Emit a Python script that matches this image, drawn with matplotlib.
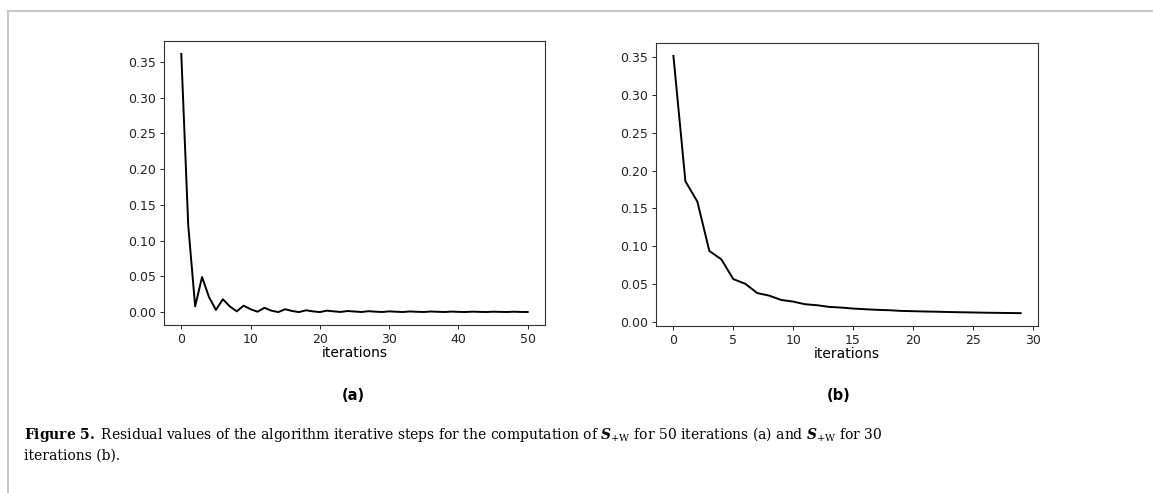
import matplotlib
matplotlib.use("Agg")
import matplotlib.pyplot as plt
from matplotlib.lines import Line2D

plt.rcParams['mathtext.fontset'] = 'custom'
plt.rcParams['mathtext.rm'] = 'DejaVu Serif'
plt.rcParams['mathtext.it'] = 'DejaVu Serif:italic'
plt.rcParams['mathtext.bf'] = 'DejaVu Serif:bold'
plt.rcParams['mathtext.bfit'] = 'DejaVu Serif:bold:italic'

# residuals, 50 iterations (a)
res_a = [0.361, 0.122, 0.008, 0.049, 0.021, 0.003, 0.018, 0.008, 0.001, 0.009,
         0.004, 0.0005, 0.006, 0.002, 0.0, 0.004, 0.0015, 0.0, 0.0025, 0.001,
         0.0, 0.002, 0.001, 0.0002, 0.0015, 0.0008, 0.0001, 0.0012, 0.0006, 0.0001,
         0.001, 0.0005, 0.0001, 0.0009, 0.0004, 0.0001, 0.0008, 0.0004, 0.0001, 0.0007,
         0.0003, 0.0001, 0.0006, 0.0003, 0.0001, 0.0005, 0.0003, 0.0001, 0.0005, 0.0002,
         0.0001]
# residuals, 30 iterations (b)
res_b = [0.352, 0.186, 0.159, 0.0937, 0.0827, 0.0565, 0.0503, 0.038, 0.0346, 0.0289,
         0.0267, 0.0232, 0.0219, 0.0197, 0.0188, 0.0175, 0.0166, 0.0158, 0.0153, 0.0144,
         0.014, 0.0136, 0.0133, 0.0129, 0.0126, 0.0123, 0.0120, 0.0118, 0.0116, 0.0114]

fig = plt.figure(figsize=(11.53, 4.93), dpi=100)

ax1 = fig.add_axes([0.1422, 0.3408, 0.3305, 0.576])
ax2 = fig.add_axes([0.569, 0.3387, 0.3313, 0.574])

for ax, res in [(ax1, res_a), (ax2, res_b)]:
    ax.plot(range(len(res)), res, color='black', lw=1.4)
    ax.set_xlabel("iterations", fontsize=10, labelpad=0)
    ax.tick_params(labelsize=9, length=3, width=0.7, pad=2.5, colors='#222222')
    for sp in ax.spines.values():
        sp.set_linewidth(0.8)
        sp.set_color('#333333')

ax1.set_yticks([0, 0.05, 0.10, 0.15, 0.20, 0.25, 0.30, 0.35])
ax2.set_yticks([0, 0.05, 0.10, 0.15, 0.20, 0.25, 0.30, 0.35])
ax1.yaxis.set_major_formatter(matplotlib.ticker.FormatStrFormatter('%.2f'))
ax2.yaxis.set_major_formatter(matplotlib.ticker.FormatStrFormatter('%.2f'))

fig.text(0.3062, 0.198, "(a)", ha='center', va='center', fontsize=10.5, fontweight='bold')
fig.text(0.7270, 0.198, "(b)", ha='center', va='center', fontsize=10.5, fontweight='bold')

cap1 = (r"$\mathbf{Figure\ 5.}$ Residual values of the algorithm iterative steps for the computation of "
        r"$\mathbfit{S}_{+\mathrm{W}}$ for 50 iterations (a) and $\mathbfit{S}_{+\mathrm{W}}$ for 30")
fig.text(24 / 1153, 1 - 434 / 493, cap1, ha='left', va='center', fontsize=10,
         family='DejaVu Serif')
fig.text(24 / 1153, 1 - 456 / 493, "iterations (b).", ha='left', va='center', fontsize=10,
         family='DejaVu Serif')

# page frame
fig.add_artist(Line2D([8 / 1153, 1], [1 - 11 / 493, 1 - 11 / 493], transform=fig.transFigure,
                      color='#c8c8c8', lw=1.5))
fig.add_artist(Line2D([8 / 1153, 8 / 1153], [0, 1 - 11 / 493], transform=fig.transFigure,
                      color='#c8c8c8', lw=1.5))

fig.savefig("out.png", dpi=100)
